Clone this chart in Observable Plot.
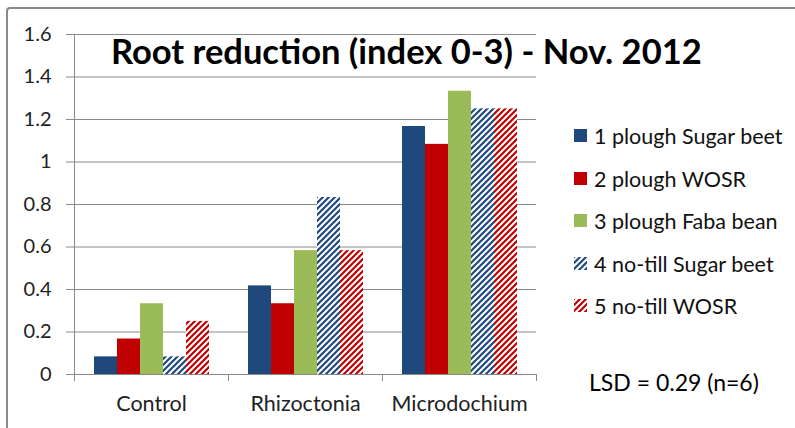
<!DOCTYPE html>
<html>
<head>
<meta charset="utf-8">
<script src="https://cdn.jsdelivr.net/npm/d3@7"></script>
<script src="https://cdn.jsdelivr.net/npm/@observablehq/plot@0.6"></script>
<style>
  html, body { margin: 0; padding: 0; background: #fff; }
  #wrap { position: relative; width: 795px; height: 428px; overflow: hidden; font-family: Lato, "Open Sans", sans-serif; }
  #border { position: absolute; left: 6px; top: 7px; width: 900px; height: 600px; border-top: 2px solid #8a8a8a; border-left: 2px solid #8a8a8a; border-top-left-radius: 4px; box-sizing: border-box; }
  #chart { position: absolute; left: 0; top: 0; }
  #title { position: absolute; left: 111px; top: 29px; font-size: 34.5px; font-weight: 700; color: #000; white-space: nowrap; line-height: 44px; }
  #legend { position: absolute; left: 574px; top: 0; }
  .item { position: absolute; left: 0; white-space: nowrap; font-size: 21.5px; color: #111; line-height: 26px; }
  .sw { position: absolute; left: 0; top: 6px; width: 13px; height: 13px; }
  .lab { position: absolute; left: 20px; top: 0; }
  #lsd { position: absolute; left: 589px; top: 368px; font-size: 23px; color: #000; white-space: nowrap; line-height: 28px; }
</style>
</head>
<body>
<svg width="0" height="0" style="position:absolute">
  <defs>
    <pattern id="hatchBlue" patternUnits="userSpaceOnUse" width="6" height="6">
      <rect width="6" height="6" fill="#fff"/>
      <path d="M-1,7 L7,-1 M-1,1 L1,-1 M5,7 L7,5" stroke="#1f497d" stroke-width="2.2"/>
    </pattern>
    <pattern id="hatchRed" patternUnits="userSpaceOnUse" width="6" height="6">
      <rect width="6" height="6" fill="#fff"/>
      <path d="M-1,7 L7,-1 M-1,1 L1,-1 M5,7 L7,5" stroke="#c00000" stroke-width="2.2"/>
    </pattern>
  </defs>
</svg>
<div id="wrap">
  <div id="border"></div>
  <div id="chart"></div>
  <div id="title"></div>
  <div id="legend"></div>
  <div id="lsd"></div>
</div>
<script>
// ---- data ----
const categories = ["Control", "Rhizoctonia", "Microdochium"];
const series = ["1 plough Sugar beet", "2 plough WOSR", "3 plough Faba bean", "4 no-till Sugar beet", "5 no-till WOSR"];
const control = [0.083, 0.167, 0.333, 0.083, 0.25];
const rhizoctonia = [0.417, 0.333, 0.583, 0.833, 0.583];
const microdochium = [1.167, 1.083, 1.333, 1.25, 1.25];
const yTicks = [0, 0.2, 0.4, 0.6, 0.8, 1, 1.2, 1.4, 1.6];
const seriesFills = ["#1f497d", "#c00000", "#9bbb59", "url(#hatchBlue)", "url(#hatchRed)"];
const titleText = "Root reduction (index 0-3) - Nov. 2012";
const lsdText = "LSD = 0.29 (n=6)";

const valuesByCategory = [control, rhizoctonia, microdochium];
const data = [];
categories.forEach((c, i) => series.forEach((s, j) => data.push({category: c, series: s, value: valuesByCategory[i][j]})));

const fmt = d => String(+d.toFixed(1));
const axisGray = "#8a8a8a";

const chart = Plot.plot({
  width: 795,
  height: 428,
  marginLeft: 74,
  marginRight: 259,
  marginTop: 34,
  marginBottom: 54,
  style: {fontFamily: "Lato, 'Open Sans', sans-serif", background: "transparent", overflow: "visible"},
  fx: {domain: categories, padding: 0, label: null},
  x: {domain: series, paddingInner: 0, paddingOuter: 0.78, axis: null},
  y: {domain: [0, 1.6], label: null},
  color: {domain: series, range: seriesFills},
  marks: [
    Plot.gridY(yTicks.filter(d => d > 0), {stroke: axisGray, strokeOpacity: 1, strokeWidth: 1}),
    Plot.axisY(yTicks, {tickSize: 8, tickPadding: 15, fontSize: 20, tickFormat: fmt, stroke: axisGray, color: "#222", label: null}),
    // left spine of the plot area
    Plot.frame({anchor: "left", facet: "super", stroke: axisGray}),
    Plot.barY(data, {fx: "category", x: "series", y: "value", fill: "series"}),
    Plot.ruleY([0], {stroke: axisGray}),
    // category boundary ticks
    Plot.axisFx({anchor: "bottom", tickSize: 7, text: null, dx: -77, stroke: axisGray, label: null}),
    Plot.axisFx({anchor: "bottom", tickSize: 7, text: null, dx: 77, stroke: axisGray, label: null}),
    Plot.axisFx({anchor: "bottom", tickSize: 0, tickPadding: 21, fontSize: 21.5, color: "#222", label: null})
  ]
});
document.getElementById("chart").appendChild(chart);

document.getElementById("title").textContent = titleText;
document.getElementById("lsd").textContent = lsdText;

const legend = document.getElementById("legend");
series.forEach((s, j) => {
  const item = document.createElement("div");
  item.className = "item";
  item.style.top = (123 + j * 42.5) + "px";
  const sw = document.createElementNS("http://www.w3.org/2000/svg", "svg");
  sw.setAttribute("class", "sw");
  sw.setAttribute("width", 13);
  sw.setAttribute("height", 13);
  const r = document.createElementNS("http://www.w3.org/2000/svg", "rect");
  r.setAttribute("width", 13);
  r.setAttribute("height", 13);
  r.setAttribute("fill", seriesFills[j]);
  sw.appendChild(r);
  const lab = document.createElement("span");
  lab.className = "lab";
  lab.textContent = s;
  item.appendChild(sw);
  item.appendChild(lab);
  legend.appendChild(item);
});
</script>
</body>
</html>
